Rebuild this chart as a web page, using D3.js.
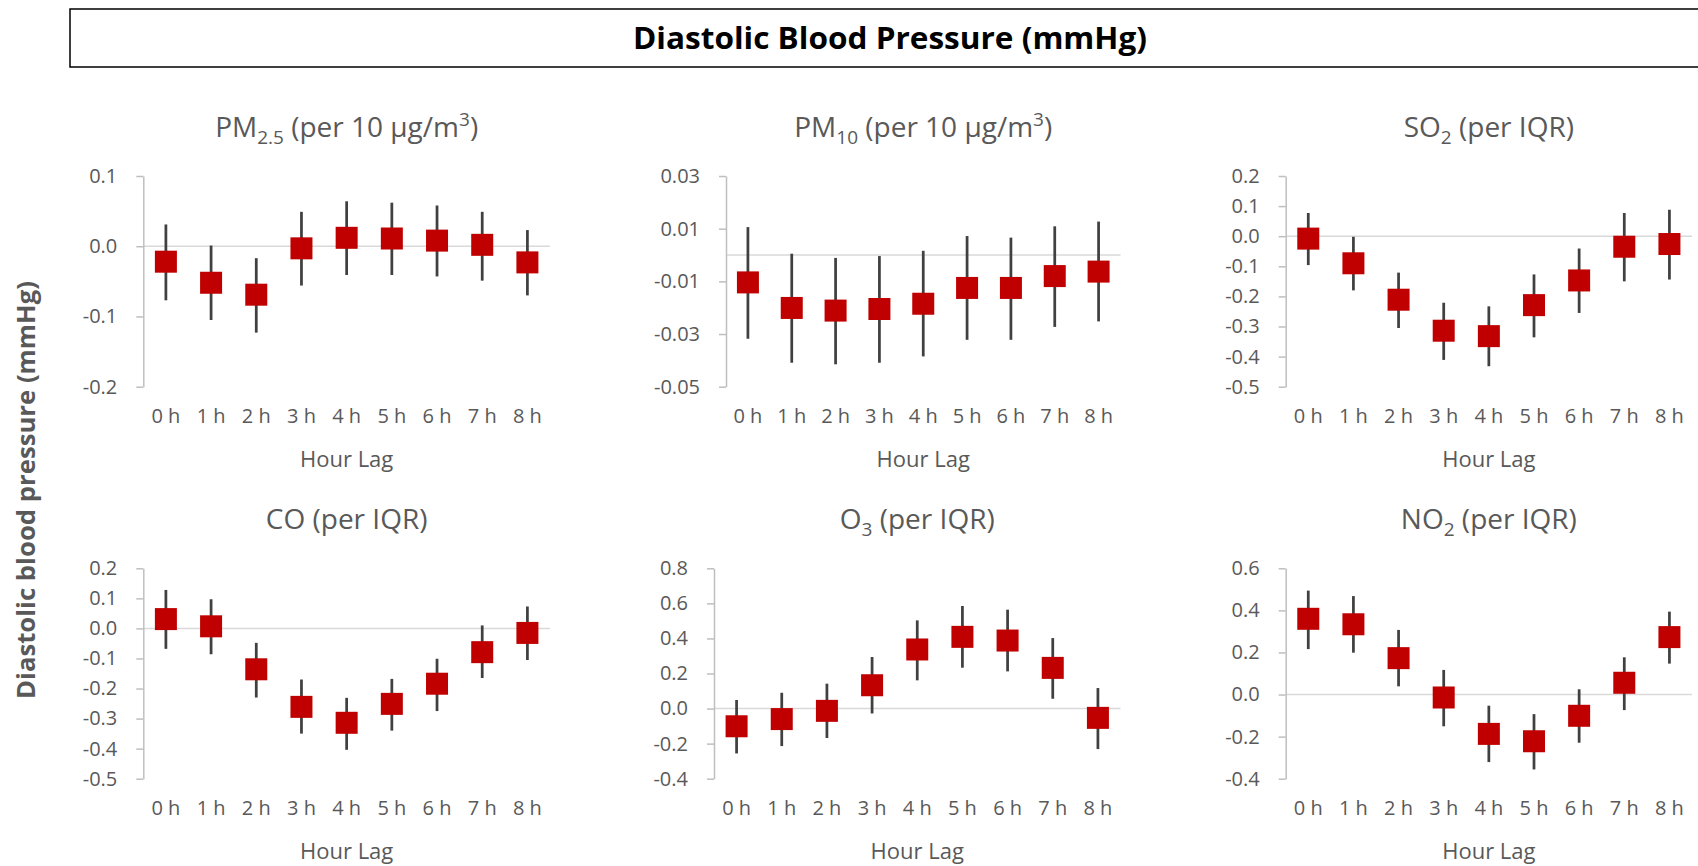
<!DOCTYPE html>
<html>
<head>
<meta charset="utf-8">
<script src="https://cdn.jsdelivr.net/npm/d3@7"></script>
<style>
  body { margin: 0; background: #fff; }
  svg text { font-family: "Open Sans", sans-serif; }
</style>
</head>
<body>
<svg id="chart" width="1698" height="866"></svg>
<script>
// hour lags (x categories)
var lags = ["0 h", "1 h", "2 h", "3 h", "4 h", "5 h", "6 h", "7 h", "8 h"];

// PM2.5
var pm25Est = [-0.022, -0.052, -0.069, -0.003, 0.012, 0.011, 0.008, 0.002, -0.023];
var pm25Lo  = [-0.077, -0.105, -0.123, -0.056, -0.041, -0.041, -0.043, -0.049, -0.070];
var pm25Hi  = [0.031, 0.001, -0.017, 0.049, 0.064, 0.062, 0.058, 0.049, 0.023];
var pm25Ticks = [-0.2, -0.1, 0.0, 0.1];

// PM10
var pm10Est = [-0.0104, -0.0201, -0.0211, -0.0205, -0.0185, -0.0125, -0.0125, -0.0080, -0.0063];
var pm10Lo  = [-0.0318, -0.0409, -0.0415, -0.0409, -0.0385, -0.0322, -0.0322, -0.0273, -0.0252];
var pm10Hi  = [0.0106, 0.0005, -0.0011, -0.0004, 0.0016, 0.0072, 0.0066, 0.0109, 0.0127];
var pm10Ticks = [-0.05, -0.03, -0.01, 0.01, 0.03];

// SO2
var so2Est = [-0.008, -0.090, -0.211, -0.314, -0.332, -0.229, -0.147, -0.035, -0.026];
var so2Lo  = [-0.096, -0.180, -0.305, -0.411, -0.432, -0.336, -0.255, -0.150, -0.144];
var so2Hi  = [0.077, -0.002, -0.121, -0.221, -0.233, -0.127, -0.041, 0.077, 0.088];
var so2Ticks = [-0.5, -0.4, -0.3, -0.2, -0.1, 0.0, 0.1, 0.2];

// CO
var coEst = [0.031, 0.007, -0.136, -0.261, -0.314, -0.251, -0.184, -0.079, -0.015];
var coLo  = [-0.068, -0.086, -0.230, -0.350, -0.404, -0.340, -0.275, -0.165, -0.105];
var coHi  = [0.128, 0.097, -0.048, -0.170, -0.231, -0.168, -0.101, 0.010, 0.073];
var coTicks = [-0.5, -0.4, -0.3, -0.2, -0.1, 0.0, 0.1, 0.2];

// O3
var o3Est = [-0.101, -0.060, -0.013, 0.133, 0.337, 0.409, 0.388, 0.232, -0.053];
var o3Lo  = [-0.256, -0.214, -0.168, -0.028, 0.161, 0.233, 0.212, 0.056, -0.231];
var o3Hi  = [0.049, 0.090, 0.142, 0.294, 0.503, 0.585, 0.564, 0.402, 0.117];
var o3Ticks = [-0.4, -0.2, 0.0, 0.2, 0.4, 0.6, 0.8];

// NO2
var no2Est = [0.360, 0.334, 0.173, -0.014, -0.187, -0.222, -0.101, 0.056, 0.273];
var no2Lo  = [0.216, 0.199, 0.039, -0.151, -0.321, -0.356, -0.229, -0.074, 0.147];
var no2Hi  = [0.494, 0.468, 0.307, 0.117, -0.053, -0.093, 0.025, 0.177, 0.394];
var no2Ticks = [-0.4, -0.2, 0.0, 0.2, 0.4, 0.6];

// panel titles: [main, subscript, middle, superscript, end]
var panels = [
  { title: ["PM", "2.5", " (per 10 \u00b5g/m", "3", ")"], est: pm25Est, lo: pm25Lo, hi: pm25Hi, ticks: pm25Ticks, dec: 1 },
  { title: ["PM", "10", " (per 10 \u00b5g/m", "3", ")"], est: pm10Est, lo: pm10Lo, hi: pm10Hi, ticks: pm10Ticks, dec: 2 },
  { title: ["SO", "2", " (per IQR)", "", ""], est: so2Est, lo: so2Lo, hi: so2Hi, ticks: so2Ticks, dec: 1 },
  { title: ["CO (per IQR)", "", "", "", ""], est: coEst, lo: coLo, hi: coHi, ticks: coTicks, dec: 1 },
  { title: ["O", "3", " (per IQR)", "", ""], est: o3Est, lo: o3Lo, hi: o3Hi, ticks: o3Ticks, dec: 1 },
  { title: ["NO", "2", " (per IQR)", "", ""], est: no2Est, lo: no2Lo, hi: no2Hi, ticks: no2Ticks, dec: 1 }
];

// plot area boxes (layout only)
var rowY = [[176, 386.7], [568.3, 778.7]];
var colLeft = [143.3, 726, 1285.7, 143.3, 714, 1285.7];
var colRight = [550, 1120.5, 1692];

var textColor = "#595959";
var svg = d3.select("#chart");

// header box + title
svg.append("rect")
  .attr("x", 70).attr("y", 9)
  .attr("width", 1640).attr("height", 58)
  .attr("fill", "none").attr("stroke", "#000").attr("stroke-width", 1.5);

svg.append("text")
  .attr("x", 890).attr("y", 49)
  .attr("text-anchor", "middle")
  .attr("font-size", 31).attr("font-weight", 700)
  .attr("textLength", 514).attr("lengthAdjust", "spacingAndGlyphs")
  .attr("fill", "#000")
  .text("Diastolic Blood Pressure (mmHg)");

// y axis title
svg.append("text")
  .attr("transform", "translate(35,490) rotate(-90)")
  .attr("text-anchor", "middle")
  .attr("font-size", 25).attr("font-weight", 700)
  .attr("textLength", 418).attr("lengthAdjust", "spacingAndGlyphs")
  .attr("fill", textColor)
  .text("Diastolic blood pressure (mmHg)");

panels.forEach(function (p, i) {
  var row = Math.floor(i / 3), col = i % 3;
  var top = rowY[row][0], bottom = rowY[row][1];
  var left = colLeft[i], right = colRight[col];

  var x = d3.scaleBand().domain(lags).range([left, right]);
  var y = d3.scaleLinear().domain(d3.extent(p.ticks)).range([bottom, top]);

  var g = svg.append("g");

  // zero line (category axis)
  g.append("line")
    .attr("x1", left).attr("x2", right)
    .attr("y1", y(0)).attr("y2", y(0))
    .attr("stroke", "#d9d9d9").attr("stroke-width", 1.5);

  // value axis
  var yAxis = d3.axisLeft(y)
    .tickValues(p.ticks)
    .tickSize(7).tickSizeOuter(0).tickPadding(19)
    .tickFormat(function (d) { return d.toFixed(p.dec); });
  var ya = g.append("g").attr("transform", "translate(" + left + ",0)").call(yAxis);
  ya.select(".domain").attr("stroke", "#bfbfbf").attr("stroke-width", 1.5);
  ya.selectAll(".tick line").attr("stroke", "#bfbfbf").attr("stroke-width", 1.5);
  ya.selectAll(".tick text")
    .attr("font-family", "Open Sans").attr("font-size", 20).attr("fill", textColor);

  // category labels
  var xAxis = d3.axisBottom(x).tickSize(0).tickPadding(22);
  var xa = g.append("g").attr("transform", "translate(0," + bottom + ")").call(xAxis);
  xa.select(".domain").remove();
  xa.selectAll(".tick text")
    .attr("font-family", "Open Sans").attr("font-size", 20).attr("fill", textColor);

  // axis title
  g.append("text")
    .attr("x", (left + right) / 2).attr("y", bottom + 80)
    .attr("text-anchor", "middle")
    .attr("font-size", 22).attr("fill", textColor)
    .text("Hour Lag");

  // panel title with sub/superscripts
  var t = g.append("text")
    .attr("x", (left + right) / 2).attr("y", top - 39)
    .attr("text-anchor", "middle")
    .attr("font-size", 28).attr("fill", textColor);
  t.append("tspan").text(p.title[0]);
  if (p.title[1]) t.append("tspan").attr("font-size", 19).attr("dy", 7).text(p.title[1]);
  if (p.title[2]) t.append("tspan").attr("dy", p.title[1] ? -7 : 0).text(p.title[2]);
  if (p.title[3]) t.append("tspan").attr("font-size", 19).attr("dy", -11).text(p.title[3]);
  if (p.title[4]) t.append("tspan").attr("dy", 11).text(p.title[4]);

  var pts = lags.map(function (l, k) {
    return { lag: l, est: p.est[k], lo: p.lo[k], hi: p.hi[k] };
  });

  // error bars
  g.selectAll("line.err").data(pts).enter()
    .append("line").attr("class", "err")
    .attr("x1", function (d) { return x(d.lag) + x.bandwidth() / 2; })
    .attr("x2", function (d) { return x(d.lag) + x.bandwidth() / 2; })
    .attr("y1", function (d) { return y(d.lo); })
    .attr("y2", function (d) { return y(d.hi); })
    .attr("stroke", "#404040").attr("stroke-width", 2.75);

  // markers
  var s = 22;
  g.selectAll("rect.pt").data(pts).enter()
    .append("rect").attr("class", "pt")
    .attr("x", function (d) { return x(d.lag) + x.bandwidth() / 2 - s / 2; })
    .attr("y", function (d) { return y(d.est) - s / 2; })
    .attr("width", s).attr("height", s)
    .attr("fill", "#c00000");
});
</script>
</body>
</html>
